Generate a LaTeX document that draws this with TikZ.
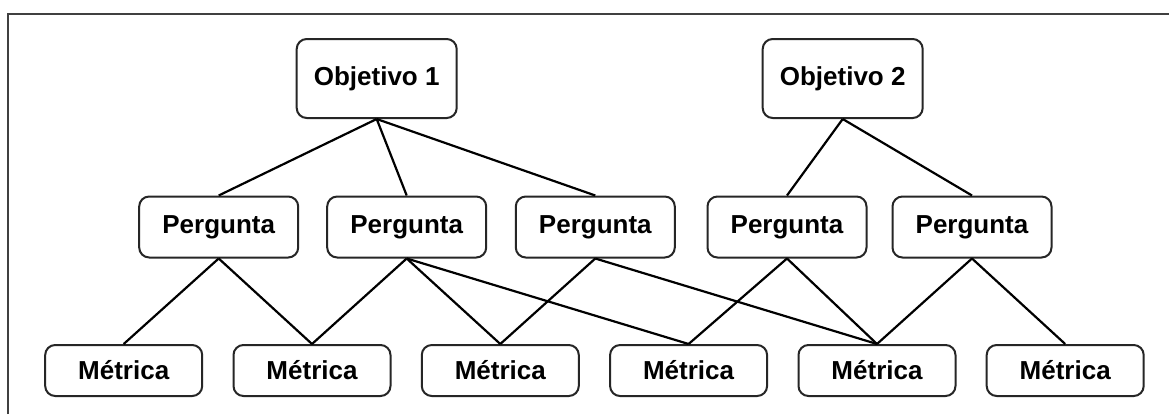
\documentclass[tikz,border=0pt]{standalone}
\usepackage{fontspec}
\setmainfont{Liberation Sans}
\begin{document}
\begin{tikzpicture}[x=1bp,y=-1bp,
  box/.style={draw=black!85, line width=2bp, rounded corners=10bp, fill=white,
    font=\fontsize{26bp}{30bp}\selectfont\bfseries, inner sep=0pt, align=center},
  objbox/.style={box, minimum width=160bp, minimum height=79bp},
  qbox/.style={box, minimum width=159bp, minimum height=61bp},
  mbox/.style={box, minimum width=157bp, minimum height=51bp},
  link/.style={line width=2.2bp, black}]
\useasboundingbox (0,0) rectangle (1169,414);
\fill[white] (0,0) rectangle (1169,414);
\draw[line width=1.5bp, black!75] (8,414) -- (8,14) -- (1169,14);

\node[objbox] (o1) at (376.7,78.5) {Objetivo 1};
\node[objbox] (o2) at (842.7,78.5) {Objetivo 2};

\node[qbox] (p1) at (218.7,227) {Pergunta};
\node[qbox] (p2) at (406.7,227) {Pergunta};
\node[qbox] (p3) at (595.3,227) {Pergunta};
\node[qbox] (p4) at (787,227) {Pergunta};
\node[qbox] (p5) at (972,227) {Pergunta};

\node[mbox] (m1) at (123.7,370.5) {Métrica};
\node[mbox] (m2) at (312,370.5) {Métrica};
\node[mbox] (m3) at (500.3,370.5) {Métrica};
\node[mbox] (m4) at (688.6,370.5) {Métrica};
\node[mbox] (m5) at (877,370.5) {Métrica};
\node[mbox] (m6) at (1065.2,370.5) {Métrica};

\draw[link] (o1.south) -- (p1.north);
\draw[link] (o1.south) -- (p2.north);
\draw[link] (o1.south) -- (p3.north);
\draw[link] (o2.south) -- (p4.north);
\draw[link] (o2.south) -- (p5.north);

\draw[link] (p1.south) -- (m1.north);
\draw[link] (p1.south) -- (m2.north);
\draw[link] (p2.south) -- (m2.north);
\draw[link] (p2.south) -- (m3.north);
\draw[link] (p2.south) -- (m4.north);
\draw[link] (p3.south) -- (m3.north);
\draw[link] (p3.south) -- (m5.north);
\draw[link] (p4.south) -- (m4.north);
\draw[link] (p4.south) -- (m5.north);
\draw[link] (p5.south) -- (m5.north);
\draw[link] (p5.south) -- (m6.north);
\end{tikzpicture}
\end{document}
